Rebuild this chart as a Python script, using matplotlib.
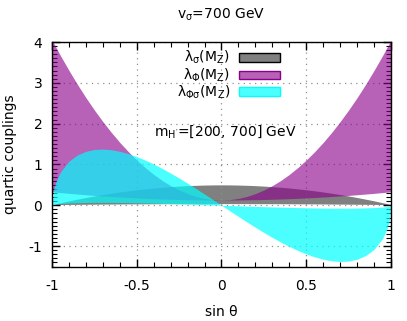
import matplotlib
matplotlib.use("Agg")
import matplotlib.pyplot as plt
from matplotlib.patches import Rectangle
from matplotlib.ticker import MultipleLocator, FuncFormatter

# sin(theta) sample points
sin_theta = [-1.0, -0.99, -0.975, -0.95, -0.9, -0.85, -0.8, -0.75, -0.7, -0.65, -0.6,
             -0.55, -0.5, -0.45, -0.4, -0.35, -0.3, -0.25, -0.2, -0.15, -0.1, -0.05,
             0.0, 0.05, 0.1, 0.15, 0.2, 0.25, 0.3, 0.35, 0.4, 0.45, 0.5, 0.55, 0.6,
             0.65, 0.7, 0.75, 0.8, 0.85, 0.9, 0.95, 0.975, 0.99, 1.0]

# lambda_sigma band (m_H' = 200 -> lower, 700 -> upper)
lam_sigma_lo = [0.016, 0.0165, 0.0172, 0.0184, 0.0207, 0.0228, 0.0249, 0.0268, 0.0286, 0.0303, 0.0319,
                0.0333, 0.0346, 0.0358, 0.0368, 0.0378, 0.0386, 0.0393, 0.0398, 0.0403, 0.0406, 0.0407,
                0.0408, 0.0407, 0.0406, 0.0403, 0.0398, 0.0393, 0.0386, 0.0378, 0.0368, 0.0358, 0.0346,
                0.0333, 0.0319, 0.0303, 0.0286, 0.0268, 0.0249, 0.0228, 0.0207, 0.0184, 0.0172, 0.0165, 0.016]
lam_sigma_hi = [0.016, 0.026, 0.040, 0.063, 0.108, 0.150, 0.190, 0.228, 0.263, 0.295, 0.326,
                0.354, 0.379, 0.402, 0.423, 0.441, 0.456, 0.470, 0.481, 0.489, 0.495, 0.499,
                0.500, 0.499, 0.495, 0.489, 0.481, 0.470, 0.456, 0.441, 0.423, 0.402, 0.379,
                0.354, 0.326, 0.295, 0.263, 0.228, 0.190, 0.150, 0.108, 0.063, 0.040, 0.026, 0.016]

# lambda_Phi band
lam_phi_lo = [0.331, 0.327, 0.321, 0.311, 0.292, 0.275, 0.258, 0.242, 0.228, 0.214, 0.202,
              0.190, 0.180, 0.170, 0.161, 0.154, 0.147, 0.142, 0.137, 0.134, 0.131, 0.130,
              0.129, 0.130, 0.131, 0.134, 0.137, 0.142, 0.147, 0.154, 0.161, 0.170, 0.180,
              0.190, 0.202, 0.214, 0.228, 0.242, 0.258, 0.275, 0.292, 0.311, 0.321, 0.327, 0.331]
lam_phi_hi = [4.049, 3.970, 3.855, 3.666, 3.304, 2.961, 2.637, 2.334, 2.050, 1.785, 1.540,
              1.315, 1.109, 0.923, 0.756, 0.609, 0.482, 0.374, 0.286, 0.217, 0.168, 0.139,
              0.129, 0.139, 0.168, 0.217, 0.286, 0.374, 0.482, 0.609, 0.756, 0.923, 1.109,
              1.315, 1.540, 1.785, 2.050, 2.334, 2.637, 2.961, 3.304, 3.666, 3.855, 3.970, 4.049]

# lambda_Phi_sigma band
lam_ps_a = [0.0, 0.020, 0.031, 0.042, 0.056, 0.063, 0.068, 0.070, 0.071, 0.070, 0.068,
            0.065, 0.061, 0.057, 0.052, 0.046, 0.041, 0.034, 0.028, 0.021, 0.014, 0.007,
            0.0, -0.007, -0.014, -0.021, -0.028, -0.034, -0.041, -0.046, -0.052, -0.057, -0.061,
            -0.065, -0.068, -0.070, -0.071, -0.070, -0.068, -0.063, -0.056, -0.042, -0.031, -0.020, 0.0]
lam_ps_b = [0.0, 0.385, 0.597, 0.817, 1.081, 1.233, 1.322, 1.367, 1.377, 1.361, 1.322,
            1.265, 1.193, 1.107, 1.010, 0.903, 0.788, 0.667, 0.540, 0.409, 0.274, 0.138,
            0.0, -0.138, -0.274, -0.409, -0.540, -0.667, -0.788, -0.903, -1.010, -1.107, -1.193,
            -1.265, -1.322, -1.361, -1.377, -1.367, -1.322, -1.233, -1.081, -0.817, -0.597, -0.385, 0.0]

labels = [r"λ$_{\mathrm{σ}}$(M$_\mathrm{Z}$)", r"λ$_{\mathrm{Φ}}$(M$_\mathrm{Z}$)",
          r"λ$_{\mathrm{Φσ}}$(M$_\mathrm{Z}$)"]

plt.rcParams['font.family'] = ['DejaVu Sans']
plt.rcParams['mathtext.fontset'] = 'custom'
plt.rcParams['mathtext.rm'] = 'DejaVu Sans'
plt.rcParams['mathtext.it'] = 'DejaVu Sans:italic'
plt.rcParams['font.size'] = 10

fig = plt.figure(figsize=(4.07, 3.21), dpi=100)
ax = fig.add_axes([52/407, (321-266.5)/321, 339/407, 224.5/321])

gray_c = (0.5, 0.5, 0.5)
purple_c = (139/255, 0, 139/255)
cyan_c = (0, 1, 1)

ax.fill_between(sin_theta, lam_sigma_lo, lam_sigma_hi, color=gray_c, alpha=1.0, lw=0, zorder=2)
ax.fill_between(sin_theta, lam_phi_lo, lam_phi_hi, color=purple_c, alpha=0.62, lw=0, zorder=3)
ax.fill_between(sin_theta, lam_ps_a, lam_ps_b, color=cyan_c, alpha=0.7, lw=0, zorder=4)

ax.set_xlim(-1, 1)
ax.set_ylim(-1.5, 4)
ax.xaxis.set_major_locator(MultipleLocator(0.5))
ax.xaxis.set_minor_locator(MultipleLocator(0.1))
ax.yaxis.set_major_locator(MultipleLocator(1))
ax.yaxis.set_minor_locator(MultipleLocator(0.1))

def fmt(v, pos):
    return '%g' % v
ax.xaxis.set_major_formatter(FuncFormatter(fmt))
ax.yaxis.set_major_formatter(FuncFormatter(fmt))

ax.tick_params(which='both', direction='in', top=True, right=True, colors='black')
ax.tick_params(which='major', length=6, width=1)
ax.tick_params(which='minor', length=3.5, width=0.8)
ax.tick_params(axis='x', which='major', pad=9)
ax.tick_params(axis='y', which='major', pad=7)
for sp in ax.spines.values():
    sp.set_linewidth(1.0)
    sp.set_zorder(6)

ax.set_axisbelow(False)
ax.grid(True, which='major', color='#909090', linestyle=(0, (1, 3.5)), linewidth=0.9, zorder=5)
for gl in ax.get_xgridlines() + ax.get_ygridlines():
    gl.set_zorder(5)

ax.set_xlabel("sin θ", labelpad=9)
ax.set_ylabel("quartic couplings", labelpad=8)
fig.text(221.5/407, 1 - 15/321, r"v$_{\mathrm{σ}}$=700 GeV", ha='center', va='center')

# legend (manual, gnuplot style)
rows_y = [0.933, 0.853, 0.778]
face = [(gray_c, 1.0, 'black'), (purple_c, 0.62, purple_c), (cyan_c, 0.7, cyan_c)]
for lab, yy, (fc, al, ec) in zip(labels, rows_y, face):
    ax.text(0.525, yy, lab, transform=ax.transAxes, ha='right', va='center', zorder=7)
    r = Rectangle((0.553, yy - 0.02), 0.12, 0.04, transform=ax.transAxes,
                  facecolor=fc, alpha=al, edgecolor='none', zorder=7)
    ax.add_patch(r)
    rb = Rectangle((0.553, yy - 0.02), 0.12, 0.04, transform=ax.transAxes,
                   facecolor='none', edgecolor=ec, lw=1.0, zorder=8)
    ax.add_patch(rb)

ax.text(0.512, 0.6, r"m$_{\mathrm{H'}}$=[200, 700] GeV", transform=ax.transAxes,
        ha='center', va='center', zorder=7)

fig.savefig("out.png", dpi=100)
